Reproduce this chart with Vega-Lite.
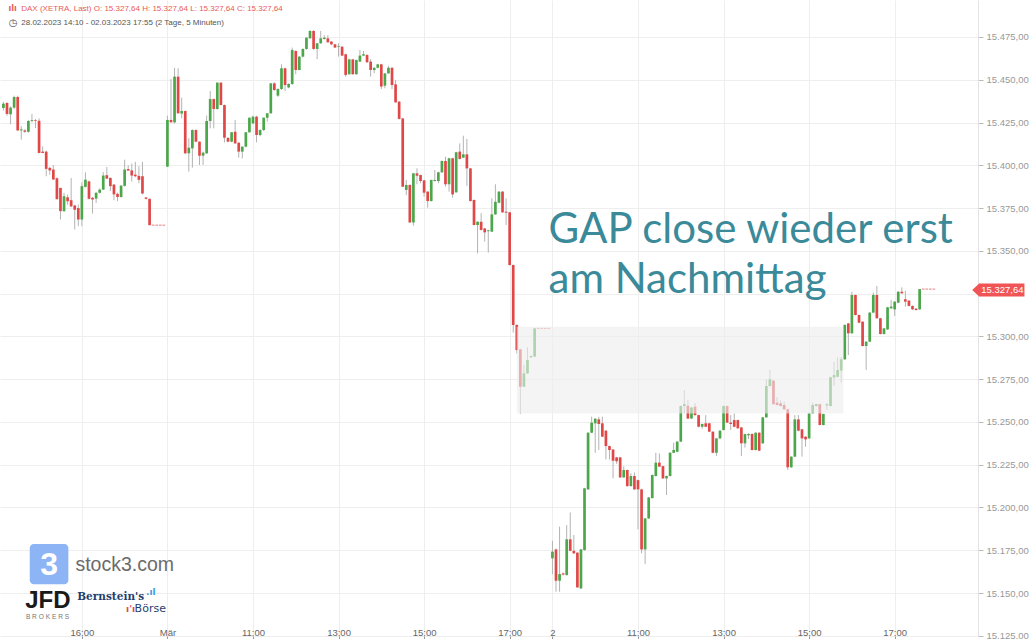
{
  "$schema": "https://vega.github.io/schema/vega-lite/v6.json",
  "autosize": {"type": "none"},
  "width": 978,
  "height": 636,
  "padding": {"left": 0, "top": 0, "right": 52, "bottom": 3},
  "background": "white",
  "config": {
    "view": {"stroke": null},
    "axis": {"labelFont": "Liberation Sans", "labelFontSize": 9.5, "gridColor": "#eeeeee", "gridWidth": 1}
  },
  "datasets": {
    "candles": [
      {"i":0,"o":15433.5,"h":15437,"l":15432,"c":15436},
      {"i":1,"o":15436.4,"h":15437,"l":15429,"c":15430},
      {"i":2,"o":15429.8,"h":15434.5,"l":15424,"c":15433.7},
      {"i":3,"o":15433.7,"h":15440.7,"l":15433,"c":15439.9},
      {"i":4,"o":15439.9,"h":15440.7,"l":15420,"c":15420.4},
      {"i":5,"o":15420.4,"h":15422.8,"l":15415,"c":15421},
      {"i":6,"o":15420.4,"h":15421,"l":15419,"c":15419.6},
      {"i":7,"o":15419.6,"h":15426.5,"l":15419,"c":15425.9},
      {"i":8,"o":15425.9,"h":15430,"l":15425,"c":15426.4},
      {"i":9,"o":15426.4,"h":15427,"l":15421.8,"c":15426},
      {"i":10,"o":15426,"h":15427.4,"l":15407,"c":15407.2},
      {"i":11,"o":15408,"h":15411,"l":15407,"c":15407.2},
      {"i":12,"o":15408,"h":15408.5,"l":15393.6,"c":15397.9},
      {"i":13,"o":15398.5,"h":15399,"l":15394.5,"c":15397},
      {"i":14,"o":15397.5,"h":15400,"l":15391.5,"c":15391.7},
      {"i":15,"o":15392.4,"h":15393,"l":15380,"c":15380.2},
      {"i":16,"o":15386.8,"h":15386.8,"l":15368.3,"c":15373.2},
      {"i":17,"o":15373.2,"h":15383.9,"l":15373,"c":15381.9},
      {"i":18,"o":15381.3,"h":15383,"l":15377,"c":15379},
      {"i":19,"o":15379.6,"h":15392.6,"l":15375.5,"c":15376},
      {"i":20,"o":15376.5,"h":15377,"l":15362.5,"c":15374},
      {"i":21,"o":15375,"h":15377,"l":15364.4,"c":15368.3},
      {"i":22,"o":15368.3,"h":15390,"l":15364.4,"c":15387.8},
      {"i":23,"o":15387.4,"h":15395.9,"l":15387,"c":15391.6},
      {"i":24,"o":15390.6,"h":15391,"l":15380,"c":15380.4},
      {"i":25,"o":15381,"h":15381.5,"l":15371.8,"c":15380},
      {"i":26,"o":15380.5,"h":15384.5,"l":15378,"c":15383.9},
      {"i":27,"o":15383.9,"h":15386.5,"l":15383.5,"c":15385.8},
      {"i":28,"o":15385.8,"h":15396,"l":15385.5,"c":15394},
      {"i":29,"o":15394.2,"h":15399,"l":15392,"c":15392.2},
      {"i":30,"o":15392.6,"h":15393,"l":15385,"c":15387.8},
      {"i":31,"o":15388.7,"h":15389,"l":15379.6,"c":15383},
      {"i":32,"o":15383.3,"h":15384,"l":15379,"c":15381.5},
      {"i":33,"o":15381.5,"h":15388.5,"l":15381,"c":15388.1},
      {"i":34,"o":15388,"h":15403.3,"l":15387.5,"c":15397.5},
      {"i":35,"o":15397.8,"h":15400,"l":15397,"c":15396.9},
      {"i":36,"o":15397,"h":15401,"l":15390.5,"c":15394},
      {"i":37,"o":15394.5,"h":15402,"l":15393,"c":15393.6},
      {"i":38,"o":15393.8,"h":15399.5,"l":15389.5,"c":15391.5},
      {"i":39,"o":15393.6,"h":15402,"l":15383,"c":15383.5},
      {"i":40,"o":15381.2,"h":15381.5,"l":15380,"c":15380.4},
      {"i":41,"o":15380.4,"h":15380.5,"l":15365,"c":15365},
      {"i":42,"o":15365,"h":15365,"l":15365,"c":15365},
      {"i":43,"o":15365,"h":15365,"l":15365,"c":15365},
      {"i":44,"o":15365,"h":15365,"l":15365,"c":15365},
      {"i":45,"o":15365,"h":15365,"l":15365,"c":15365},
      {"i":46,"o":15399.2,"h":15429,"l":15399,"c":15426.5},
      {"i":47,"o":15426.5,"h":15450.4,"l":15425,"c":15425.1},
      {"i":48,"o":15425.1,"h":15457,"l":15424.5,"c":15451.8},
      {"i":49,"o":15451.8,"h":15456.7,"l":15430,"c":15430.4},
      {"i":50,"o":15430.2,"h":15439.5,"l":15427.4,"c":15431.7},
      {"i":51,"o":15431.7,"h":15432,"l":15406.5,"c":15407},
      {"i":52,"o":15407,"h":15415.8,"l":15396.3,"c":15410.3},
      {"i":53,"o":15409.9,"h":15421,"l":15398.6,"c":15420.6},
      {"i":54,"o":15420.6,"h":15421,"l":15413.5,"c":15413.8},
      {"i":55,"o":15413.8,"h":15414,"l":15400.2,"c":15405.6},
      {"i":56,"o":15405.6,"h":15408,"l":15400.2,"c":15407.4},
      {"i":57,"o":15407,"h":15429,"l":15406.5,"c":15425.9},
      {"i":58,"o":15425.9,"h":15443.4,"l":15421.6,"c":15438.7},
      {"i":59,"o":15438.7,"h":15439,"l":15421.6,"c":15432.9},
      {"i":60,"o":15432.9,"h":15448.5,"l":15432.5,"c":15448.3},
      {"i":61,"o":15448.3,"h":15448.5,"l":15435,"c":15435.2},
      {"i":62,"o":15435.2,"h":15435.5,"l":15413.4,"c":15416.1},
      {"i":63,"o":15416,"h":15416.5,"l":15413.5,"c":15413.8},
      {"i":64,"o":15413.8,"h":15419.5,"l":15413.5,"c":15419.3},
      {"i":65,"o":15419.6,"h":15426.5,"l":15412.5,"c":15412.8},
      {"i":66,"o":15413.2,"h":15413.5,"l":15404.5,"c":15408},
      {"i":67,"o":15408,"h":15411,"l":15404,"c":15410.9},
      {"i":68,"o":15410.9,"h":15419.5,"l":15410.5,"c":15419.3},
      {"i":69,"o":15419.3,"h":15428,"l":15419,"c":15427.8},
      {"i":70,"o":15424.5,"h":15429,"l":15424,"c":15428.4},
      {"i":71,"o":15428.4,"h":15429,"l":15413.4,"c":15417.7},
      {"i":72,"o":15417.7,"h":15421,"l":15417,"c":15420.6},
      {"i":73,"o":15420.6,"h":15428,"l":15420,"c":15427.8},
      {"i":74,"o":15427.8,"h":15430.6,"l":15425.5,"c":15430.4},
      {"i":75,"o":15430.4,"h":15448,"l":15430,"c":15447.9},
      {"i":76,"o":15447.9,"h":15448.5,"l":15443.5,"c":15444},
      {"i":77,"o":15440.7,"h":15445,"l":15440,"c":15444.6},
      {"i":78,"o":15444.6,"h":15459,"l":15444,"c":15456.7},
      {"i":79,"o":15456.7,"h":15457,"l":15443.4,"c":15446.9},
      {"i":80,"o":15445.5,"h":15448,"l":15445,"c":15447.5},
      {"i":81,"o":15447.5,"h":15468.8,"l":15447,"c":15467.4},
      {"i":82,"o":15466.8,"h":15467.2,"l":15453.2,"c":15455.7},
      {"i":83,"o":15455.7,"h":15463.8,"l":15455.5,"c":15463.5},
      {"i":84,"o":15463.5,"h":15468.3,"l":15463,"c":15468},
      {"i":85,"o":15468,"h":15474.8,"l":15467.5,"c":15474.6},
      {"i":86,"o":15474.2,"h":15479,"l":15474,"c":15478.5},
      {"i":87,"o":15478.5,"h":15479,"l":15467.5,"c":15468},
      {"i":88,"o":15468,"h":15471.5,"l":15462,"c":15471.3},
      {"i":89,"o":15471.3,"h":15478.5,"l":15471,"c":15474.2},
      {"i":90,"o":15473.8,"h":15476,"l":15473.5,"c":15474.6},
      {"i":91,"o":15474.2,"h":15476,"l":15471.5,"c":15471.9},
      {"i":92,"o":15472.3,"h":15472.6,"l":15470.2,"c":15470.7},
      {"i":93,"o":15470.7,"h":15471,"l":15468.5,"c":15468.8},
      {"i":94,"o":15469.2,"h":15471.3,"l":15463.5,"c":15469.6},
      {"i":95,"o":15469.3,"h":15469.6,"l":15463.8,"c":15464.1},
      {"i":96,"o":15464.9,"h":15465.2,"l":15451.8,"c":15452.8},
      {"i":97,"o":15453.2,"h":15462.2,"l":15453,"c":15461.9},
      {"i":98,"o":15461.9,"h":15462.2,"l":15453,"c":15453.2},
      {"i":99,"o":15453.2,"h":15461.8,"l":15453,"c":15461.5},
      {"i":100,"o":15460.6,"h":15467.4,"l":15460.3,"c":15464.1},
      {"i":101,"o":15464.1,"h":15466.8,"l":15463.8,"c":15464.9},
      {"i":102,"o":15464.5,"h":15464.8,"l":15460,"c":15460.2},
      {"i":103,"o":15460.6,"h":15462.1,"l":15451.8,"c":15455.7},
      {"i":104,"o":15455.7,"h":15457.3,"l":15453.8,"c":15457},
      {"i":105,"o":15457,"h":15459.3,"l":15456.7,"c":15459},
      {"i":106,"o":15459,"h":15459.3,"l":15444.6,"c":15446},
      {"i":107,"o":15446.5,"h":15454,"l":15445,"c":15453.7},
      {"i":108,"o":15453.7,"h":15458.2,"l":15453.4,"c":15457},
      {"i":109,"o":15457,"h":15457.3,"l":15444.6,"c":15446.9},
      {"i":110,"o":15447.3,"h":15449.8,"l":15436.5,"c":15436.8},
      {"i":111,"o":15437.2,"h":15437.5,"l":15426.8,"c":15427.1},
      {"i":112,"o":15427.4,"h":15427.7,"l":15387.2,"c":15387.5},
      {"i":113,"o":15385.6,"h":15391.4,"l":15382.5,"c":15388.5},
      {"i":114,"o":15388.5,"h":15388.8,"l":15366.3,"c":15366.6},
      {"i":115,"o":15366.6,"h":15395.6,"l":15364.7,"c":15395.3},
      {"i":116,"o":15395.3,"h":15398.2,"l":15388.9,"c":15393.9},
      {"i":117,"o":15394.3,"h":15394.6,"l":15389.5,"c":15390.8},
      {"i":118,"o":15391.2,"h":15391.5,"l":15381.7,"c":15384},
      {"i":119,"o":15384.6,"h":15384.9,"l":15375.2,"c":15379.1},
      {"i":120,"o":15379.1,"h":15391.7,"l":15378.8,"c":15391.4},
      {"i":121,"o":15390.8,"h":15397.2,"l":15390.5,"c":15391.4},
      {"i":122,"o":15390.8,"h":15396.2,"l":15389.5,"c":15395.9},
      {"i":123,"o":15395.9,"h":15402.8,"l":15395.6,"c":15402.5},
      {"i":124,"o":15402.5,"h":15405,"l":15387.5,"c":15388.9},
      {"i":125,"o":15388.9,"h":15404.4,"l":15384.6,"c":15404.1},
      {"i":126,"o":15404.1,"h":15404.4,"l":15381,"c":15383},
      {"i":127,"o":15384.2,"h":15407.9,"l":15383.9,"c":15407.6},
      {"i":128,"o":15408,"h":15412.8,"l":15403.4,"c":15403.7},
      {"i":129,"o":15404.5,"h":15417.3,"l":15404.2,"c":15406.4},
      {"i":130,"o":15406.4,"h":15415.4,"l":15388,"c":15398.2},
      {"i":131,"o":15398.2,"h":15398.5,"l":15378.8,"c":15379.1},
      {"i":132,"o":15379.7,"h":15380,"l":15364.8,"c":15365.1},
      {"i":133,"o":15365.1,"h":15367.3,"l":15348.5,"c":15367},
      {"i":134,"o":15367,"h":15372,"l":15361.9,"c":15362.2},
      {"i":135,"o":15363.1,"h":15363.4,"l":15355.4,"c":15360.8},
      {"i":136,"o":15361.5,"h":15362.3,"l":15349,"c":15362},
      {"i":137,"o":15361.2,"h":15380.7,"l":15361,"c":15371.3},
      {"i":138,"o":15371.3,"h":15388.9,"l":15371,"c":15378.7},
      {"i":139,"o":15378.1,"h":15384.9,"l":15377.8,"c":15384.6},
      {"i":140,"o":15384.6,"h":15385,"l":15372.2,"c":15372.5},
      {"i":141,"o":15372.9,"h":15380.7,"l":15365.1,"c":15372.3},
      {"i":142,"o":15372.5,"h":15372.8,"l":15341.4,"c":15341.7},
      {"i":143,"o":15341.7,"h":15342,"l":15302.2,"c":15306.7},
      {"i":144,"o":15306.7,"h":15307,"l":15290,"c":15292},
      {"i":145,"o":15292.4,"h":15292.7,"l":15254.6,"c":15270.6},
      {"i":146,"o":15270.6,"h":15283.3,"l":15270.3,"c":15278.4},
      {"i":147,"o":15278.4,"h":15293.6,"l":15278.1,"c":15286.2},
      {"i":148,"o":15287.8,"h":15288.8,"l":15287.5,"c":15288.5},
      {"i":149,"o":15288.2,"h":15305,"l":15288,"c":15304.7},
      {"i":150,"o":15304.7,"h":15304.7,"l":15304.7,"c":15304.7},
      {"i":151,"o":15304.7,"h":15304.7,"l":15304.7,"c":15304.7},
      {"i":152,"o":15304.7,"h":15304.7,"l":15304.7,"c":15304.7},
      {"i":153,"o":15304.7,"h":15304.7,"l":15304.7,"c":15304.7},
      {"i":154,"o":15170.3,"h":15180.6,"l":15161.1,"c":15174.2},
      {"i":155,"o":15175.5,"h":15176,"l":15150.8,"c":15157.2},
      {"i":156,"o":15157.2,"h":15188.8,"l":15150.8,"c":15161.1},
      {"i":157,"o":15161.5,"h":15162,"l":15160.3,"c":15160.8},
      {"i":158,"o":15160.5,"h":15189.7,"l":15160.2,"c":15181.4},
      {"i":159,"o":15181.4,"h":15197.1,"l":15174.4,"c":15174.7},
      {"i":160,"o":15174.7,"h":15183.9,"l":15172.9,"c":15173.2},
      {"i":161,"o":15173.6,"h":15173.9,"l":15153,"c":15153.3},
      {"i":162,"o":15152.7,"h":15175.8,"l":15152.4,"c":15175.5},
      {"i":163,"o":15175.1,"h":15211.5,"l":15174.8,"c":15211.2},
      {"i":164,"o":15210.6,"h":15244,"l":15210.3,"c":15243.7},
      {"i":165,"o":15243.7,"h":15253.1,"l":15243.4,"c":15249.6},
      {"i":166,"o":15249.2,"h":15252.2,"l":15232,"c":15251.9},
      {"i":167,"o":15251.5,"h":15253,"l":15233.6,"c":15248.8},
      {"i":168,"o":15249.2,"h":15253.1,"l":15241.1,"c":15241.4},
      {"i":169,"o":15244.9,"h":15245.2,"l":15228.1,"c":15235.9},
      {"i":170,"o":15235.9,"h":15236.2,"l":15228.1,"c":15233.6},
      {"i":171,"o":15233.9,"h":15234.2,"l":15217,"c":15227.3},
      {"i":172,"o":15229.3,"h":15229.6,"l":15225.5,"c":15227},
      {"i":173,"o":15229.3,"h":15229.6,"l":15217.3,"c":15217.6},
      {"i":174,"o":15217.6,"h":15224,"l":15217.3,"c":15221.9},
      {"i":175,"o":15221.9,"h":15222.2,"l":15212.2,"c":15212.5},
      {"i":176,"o":15212.5,"h":15220,"l":15212.2,"c":15218.4},
      {"i":177,"o":15218.4,"h":15220.5,"l":15210.3,"c":15210.6},
      {"i":178,"o":15216,"h":15216.3,"l":15187.2,"c":15210.6},
      {"i":179,"o":15210.6,"h":15210.9,"l":15173.2,"c":15175.5},
      {"i":180,"o":15175.5,"h":15193.9,"l":15167,"c":15193.6},
      {"i":181,"o":15193.6,"h":15206.2,"l":15193.3,"c":15205.9},
      {"i":182,"o":15205.5,"h":15219.3,"l":15205.2,"c":15219},
      {"i":183,"o":15218.4,"h":15232,"l":15218.1,"c":15226.2},
      {"i":184,"o":15226.2,"h":15231.6,"l":15223.6,"c":15223.9},
      {"i":185,"o":15224.2,"h":15224.5,"l":15216.7,"c":15217},
      {"i":186,"o":15217,"h":15218.7,"l":15207.3,"c":15218.4},
      {"i":187,"o":15218.4,"h":15232.3,"l":15218.1,"c":15232},
      {"i":188,"o":15232,"h":15237.9,"l":15231.7,"c":15233.6},
      {"i":189,"o":15232.6,"h":15238.8,"l":15232.3,"c":15238.5},
      {"i":190,"o":15238.5,"h":15259.6,"l":15238.2,"c":15259.3},
      {"i":191,"o":15259.3,"h":15268.7,"l":15255,"c":15260.4},
      {"i":192,"o":15259.5,"h":15263,"l":15251.7,"c":15252},
      {"i":193,"o":15252,"h":15258.7,"l":15251.7,"c":15258.4},
      {"i":194,"o":15258.9,"h":15261,"l":15253.7,"c":15254},
      {"i":195,"o":15254,"h":15254.3,"l":15246.9,"c":15247.2},
      {"i":196,"o":15247.2,"h":15249.1,"l":15246,"c":15248.8},
      {"i":197,"o":15249.2,"h":15254,"l":15246.9,"c":15247.2},
      {"i":198,"o":15249.2,"h":15249.5,"l":15244,"c":15244.3},
      {"i":199,"o":15244.3,"h":15244.6,"l":15231.7,"c":15232},
      {"i":200,"o":15232,"h":15240.7,"l":15230.1,"c":15240.4},
      {"i":201,"o":15240.4,"h":15245.2,"l":15240.1,"c":15244.9},
      {"i":202,"o":15245.3,"h":15259.6,"l":15245,"c":15259.3},
      {"i":203,"o":15259.3,"h":15259.6,"l":15249.3,"c":15249.6},
      {"i":204,"o":15249.6,"h":15254,"l":15245.3,"c":15248.8},
      {"i":205,"o":15251.1,"h":15255,"l":15246.9,"c":15247.2},
      {"i":206,"o":15251.1,"h":15251.4,"l":15246,"c":15246.3},
      {"i":207,"o":15246.8,"h":15247.1,"l":15230.1,"c":15237.5},
      {"i":208,"o":15237.5,"h":15243.2,"l":15235,"c":15242.9},
      {"i":209,"o":15242.2,"h":15243.3,"l":15240,"c":15243},
      {"i":210,"o":15243,"h":15243.3,"l":15233.3,"c":15233.6},
      {"i":211,"o":15233.6,"h":15244,"l":15233.3,"c":15243.7},
      {"i":212,"o":15243.7,"h":15244,"l":15232.9,"c":15233.2},
      {"i":213,"o":15237.5,"h":15253,"l":15237.2,"c":15252.7},
      {"i":214,"o":15252.7,"h":15274.9,"l":15252.4,"c":15271},
      {"i":215,"o":15271,"h":15280.4,"l":15270.7,"c":15274.9},
      {"i":216,"o":15274.1,"h":15274.4,"l":15260.1,"c":15260.4},
      {"i":217,"o":15261.3,"h":15264.5,"l":15259.6,"c":15259.9},
      {"i":218,"o":15260.9,"h":15262.7,"l":15259,"c":15259.3},
      {"i":219,"o":15259.9,"h":15261.8,"l":15257.1,"c":15257.4},
      {"i":220,"o":15257.4,"h":15257.7,"l":15221.9,"c":15223.5},
      {"i":221,"o":15223.5,"h":15230,"l":15223.2,"c":15229.7},
      {"i":222,"o":15229.7,"h":15254,"l":15229.4,"c":15251.5},
      {"i":223,"o":15251.5,"h":15254,"l":15244.6,"c":15244.9},
      {"i":224,"o":15245.7,"h":15246,"l":15229.7,"c":15240.4},
      {"i":225,"o":15241.4,"h":15241.7,"l":15235.5,"c":15239.8},
      {"i":226,"o":15240.4,"h":15255.3,"l":15240.1,"c":15255},
      {"i":227,"o":15255,"h":15261.3,"l":15254.7,"c":15259.9},
      {"i":228,"o":15259.3,"h":15260.7,"l":15259,"c":15260.4},
      {"i":229,"o":15260.4,"h":15260.7,"l":15248,"c":15248.2},
      {"i":230,"o":15248.2,"h":15254.9,"l":15247.9,"c":15254.6},
      {"i":231,"o":15259.7,"h":15261,"l":15257,"c":15260.4},
      {"i":232,"o":15259.3,"h":15276.4,"l":15259,"c":15276.1},
      {"i":233,"o":15276,"h":15285,"l":15271,"c":15277.4},
      {"i":234,"o":15276.4,"h":15287.8,"l":15276.1,"c":15280.4},
      {"i":235,"o":15280,"h":15288,"l":15273,"c":15286.6},
      {"i":236,"o":15286.6,"h":15307,"l":15286.3,"c":15306.7},
      {"i":237,"o":15307.6,"h":15307.9,"l":15289.1,"c":15301.8},
      {"i":238,"o":15301.8,"h":15326.1,"l":15301.5,"c":15324.2},
      {"i":239,"o":15324.2,"h":15324.5,"l":15312.2,"c":15312.5},
      {"i":240,"o":15312.5,"h":15312.8,"l":15307.7,"c":15308},
      {"i":241,"o":15308.6,"h":15308.9,"l":15294.1,"c":15294.4},
      {"i":242,"o":15294.4,"h":15297.2,"l":15280.4,"c":15296.9},
      {"i":243,"o":15296.9,"h":15314.2,"l":15296.6,"c":15313.9},
      {"i":244,"o":15313.9,"h":15325.6,"l":15313.6,"c":15324.2},
      {"i":245,"o":15324.2,"h":15329.5,"l":15310.3,"c":15310.6},
      {"i":246,"o":15310.6,"h":15310.9,"l":15301.1,"c":15301.4},
      {"i":247,"o":15301.4,"h":15305,"l":15301.1,"c":15304.7},
      {"i":248,"o":15304.1,"h":15317.3,"l":15303.8,"c":15317},
      {"i":249,"o":15316.4,"h":15321.3,"l":15316.1,"c":15317.4},
      {"i":250,"o":15315.8,"h":15320.6,"l":15312,"c":15320.3},
      {"i":251,"o":15319.7,"h":15326.4,"l":15319.4,"c":15326.1},
      {"i":252,"o":15326.1,"h":15328.7,"l":15324.9,"c":15325.2},
      {"i":253,"o":15321.7,"h":15326.7,"l":15317.4,"c":15320.3},
      {"i":254,"o":15320.9,"h":15321.2,"l":15317.5,"c":15317.8},
      {"i":255,"o":15317.8,"h":15318.1,"l":15315.5,"c":15315.8},
      {"i":256,"o":15316.2,"h":15316.5,"l":15315.1,"c":15315.4},
      {"i":257,"o":15315.8,"h":15327.64,"l":15315.5,"c":15327.64},
      {"i":258,"o":15327.64,"h":15327.64,"l":15327.64,"c":15327.64},
      {"i":259,"o":15327.64,"h":15327.64,"l":15327.64,"c":15327.64},
      {"i":260,"o":15327.64,"h":15327.64,"l":15327.64,"c":15327.64},
      {"i":261,"o":15327.64,"h":15327.64,"l":15327.64,"c":15327.64}
    ]
  },
  "layer": [
    {
      "data": {"name": "candles"},
      "mark": {"type": "rule", "color": "#b3b3b3", "strokeWidth": 1, "clip": true},
      "encoding": {
        "x": {"field": "i", "type": "quantitative",
          "scale": {"domain": [0.44, 271.97], "nice": false, "zero": false},
          "axis": {"title": null, "orient": "bottom", "values": [22, 46, 70, 94, 118, 142, 154, 178, 202, 226, 250],
            "labelExpr": "datum.value == 22 ? '16:00' : datum.value == 46 ? 'Mär' : datum.value == 154 ? '2' : (datum.value == 70 || datum.value == 178) ? '11:00' : (datum.value == 94 || datum.value == 202) ? '13:00' : (datum.value == 118 || datum.value == 226) ? '15:00' : '17:00'",
            "domain": false, "grid": true, "ticks": true, "tickSize": 3, "tickColor": "#999999",
            "labelColor": "#666666", "labelBaseline": "alphabetic", "labelPadding": -4, "labelFlush": false}},
        "y": {"field": "l", "type": "quantitative",
          "scale": {"domain": [15124.9, 15496.6], "nice": false, "zero": false},
          "axis": {"title": null, "orient": "right", "values": [15125, 15150, 15175, 15200, 15225, 15250, 15275, 15300, 15325, 15350, 15375, 15400, 15425, 15450, 15475],
            "labelExpr": "datum.value == 15325 ? '' : replace(replace(replace(format(datum.value, ',.2f'), ',', '#'), '.', ','), '#', '.')",
            "domain": true, "domainColor": "#e3e3e3", "ticks": true, "tickSize": 5, "tickColor": "#bbbbbb",
            "labelColor": "#999999", "labelPadding": 3, "grid": true}},
        "y2": {"field": "h"}
      }
    },
    {
      "data": {"name": "candles"},
      "mark": {"type": "bar", "size": 2.7, "clip": true},
      "encoding": {
        "x": {"field": "i", "type": "quantitative"},
        "y": {"field": "o", "type": "quantitative"},
        "y2": {"field": "c"},
        "color": {"condition": {"test": "datum.c > datum.o", "value": "#4ca64a"}, "value": "#e04848"}
      }
    },
    {
      "data": {"name": "candles"},
      "transform": [{"filter": "datum.o == datum.c"}],
      "mark": {"type": "tick", "orient": "horizontal", "size": 2.7, "thickness": 1, "color": "#e04848", "clip": true},
      "encoding": {
        "x": {"field": "i", "type": "quantitative"},
        "y": {"field": "c", "type": "quantitative"}
      }
    },
    {
      "data": {"values": [{}]},
      "mark": {"type": "rect", "color": "#eeeeee", "opacity": 0.62},
      "encoding": {
        "x": {"datum": 144},
        "x2": {"datum": 235.6},
        "y": {"datum": 15305.7},
        "y2": {"datum": 15255}
      }
    },
    {
      "data": {"values": [{}]},
      "mark": {"type": "text", "font": "Lato", "fontSize": 42, "color": "#3a8a9a", "align": "left", "baseline": "alphabetic"},
      "encoding": {
        "x": {"datum": 152.9},
        "y": {"datum": 15354.4},
        "text": {"value": "GAP close wieder erst"}
      }
    },
    {
      "data": {"values": [{}]},
      "mark": {"type": "text", "font": "Lato", "fontSize": 42, "color": "#3a8a9a", "align": "left", "baseline": "alphabetic"},
      "encoding": {
        "x": {"datum": 152.9},
        "y": {"datum": 15325.5},
        "text": {"value": "am Nachmittag"}
      }
    },
    {
      "data": {"values": [{}]},
      "mark": {"type": "rect", "color": "#f05454"},
      "encoding": {
        "x": {"datum": 273.64},
        "x2": {"datum": 286.4},
        "y": {"datum": 15330.9},
        "y2": {"datum": 15323.3}
      }
    },
    {
      "data": {"values": [{}]},
      "mark": {"type": "point", "shape": "M-1,0L0,-0.93L0,0.93Z", "size": 196, "filled": true, "color": "#f05454", "opacity": 1},
      "encoding": {
        "x": {"datum": 273.7},
        "y": {"datum": 15327.1}
      }
    },
    {
      "data": {"values": [{}]},
      "mark": {"type": "text", "font": "Liberation Sans", "fontSize": 9.5, "color": "white", "align": "left", "baseline": "middle"},
      "encoding": {
        "x": {"datum": 274.3},
        "y": {"datum": 15327.1},
        "text": {"value": "15.327,64"}
      }
    },
    {
      "data": {"values": [{}]},
      "mark": {"type": "text", "font": "Liberation Sans", "fontSize": 8, "color": "#e85a5a", "align": "left", "baseline": "middle"},
      "encoding": {
        "x": {"datum": 5.0},
        "y": {"datum": 15491.3},
        "text": {"value": "DAX (XETRA, Last)  O: 15.327,64  H: 15.327,64  L: 15.327,64  C: 15.327,64"}
      }
    },
    {
      "data": {"values": [{}]},
      "mark": {"type": "text", "font": "DejaVu Sans", "fontSize": 8, "fontWeight": "bold", "color": "#e85a5a", "align": "center", "baseline": "middle"},
      "encoding": {
        "x": {"datum": 2.6},
        "y": {"datum": 15491.3},
        "text": {"value": "ılı"}
      }
    },
    {
      "data": {"values": [{}]},
      "mark": {"type": "text", "font": "Liberation Sans", "fontSize": 8, "color": "#555555", "align": "left", "baseline": "middle"},
      "encoding": {
        "x": {"datum": 5.0},
        "y": {"datum": 15483.4},
        "text": {"value": "28.02.2023 14:10 - 02.03.2023 17:55  (2 Tage, 5 Minuten)"}
      }
    },
    {
      "data": {"values": [{}]},
      "mark": {"type": "text", "font": "DejaVu Sans", "fontSize": 10, "color": "#555555", "align": "center", "baseline": "middle"},
      "encoding": {
        "x": {"datum": 2.7},
        "y": {"datum": 15483.4},
        "text": {"value": "◷"}
      }
    },
    {
      "data": {"values": [{}]},
      "mark": {"type": "rect", "color": "#8db4f5", "cornerRadius": 4},
      "encoding": {
        "x": {"datum": 7.38},
        "x2": {"datum": 18.21},
        "y": {"datum": 15178.6},
        "y2": {"datum": 15155.2}
      }
    },
    {
      "data": {"values": [{}]},
      "mark": {"type": "text", "font": "Liberation Sans", "fontSize": 32, "fontWeight": "bold", "color": "white", "align": "center", "baseline": "middle"},
      "encoding": {
        "x": {"datum": 12.8},
        "y": {"datum": 15166.6},
        "text": {"value": "3"}
      }
    },
    {
      "data": {"values": [{}]},
      "mark": {"type": "text", "font": "Liberation Sans", "fontSize": 19.5, "color": "#6b6b6b", "align": "left", "baseline": "middle"},
      "encoding": {
        "x": {"datum": 20.2},
        "y": {"datum": 15166.3},
        "text": {"value": "stock3.com"}
      }
    },
    {
      "data": {"values": [{}]},
      "mark": {"type": "text", "font": "Liberation Sans", "fontSize": 24, "fontWeight": "bold", "color": "#1a1a1a", "align": "left", "baseline": "middle"},
      "encoding": {
        "x": {"datum": 6.1},
        "y": {"datum": 15145.5},
        "text": {"value": "JFD"}
      }
    },
    {
      "data": {"values": [{}]},
      "mark": {"type": "text", "font": "Liberation Sans", "fontSize": 6.6, "color": "#777777", "align": "left", "baseline": "middle"},
      "encoding": {
        "x": {"datum": 6.3},
        "y": {"datum": 15135.9},
        "text": {"value": "B R O K E R S"}
      }
    },
    {
      "data": {"values": [{}]},
      "mark": {"type": "text", "font": "DejaVu Serif", "fontSize": 10.5, "fontWeight": "bold", "color": "#1f3f6e", "align": "left", "baseline": "middle"},
      "encoding": {
        "x": {"datum": 20.7},
        "y": {"datum": 15147.6},
        "text": {"value": "Bernstein's"}
      }
    },
    {
      "data": {"values": [{}]},
      "mark": {"type": "text", "font": "DejaVu Sans", "fontSize": 11, "color": "#1f3f6e", "align": "left", "baseline": "middle"},
      "encoding": {
        "x": {"datum": 36.8},
        "y": {"datum": 15140.6},
        "text": {"value": "Börse"}
      }
    },
    {
      "data": {"values": [{}]},
      "mark": {"type": "text", "font": "DejaVu Sans", "fontSize": 9, "fontWeight": "bold", "color": "#e04848", "align": "left", "baseline": "middle"},
      "encoding": {
        "x": {"datum": 34.4},
        "y": {"datum": 15140.9},
        "text": {"value": "ı'ı"}
      }
    },
    {
      "data": {"values": [{}]},
      "mark": {"type": "text", "font": "DejaVu Sans", "fontSize": 9, "fontWeight": "bold", "color": "#3d9be0", "align": "left", "baseline": "middle"},
      "encoding": {
        "x": {"datum": 40.0},
        "y": {"datum": 15150.5},
        "text": {"value": ".ıl"}
      }
    }
  ]
}
